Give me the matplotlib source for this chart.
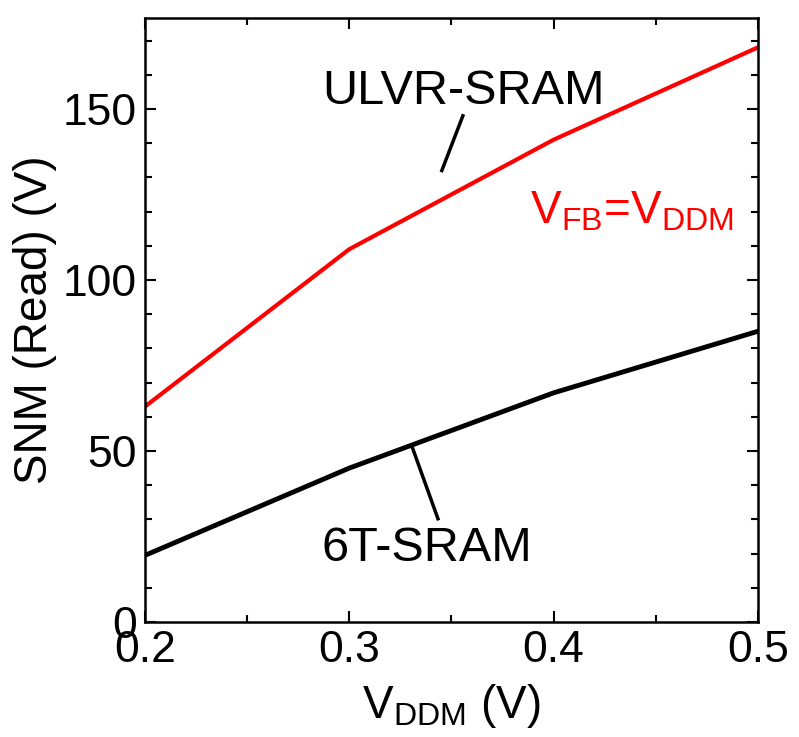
import matplotlib
matplotlib.use("Agg")
import matplotlib.pyplot as plt
from matplotlib.ticker import MultipleLocator, FuncFormatter

plt.rcParams['font.family'] = ['Liberation Sans', 'DejaVu Sans']
plt.rcParams['mathtext.default'] = 'regular'

vddm = [0.2, 0.3, 0.4, 0.5]
ulvr_snm = [63, 109, 141, 168]
sram6t_snm = [19.5, 45, 67, 85]

fig = plt.figure(figsize=(7.99, 7.37), dpi=100)
ax = fig.add_axes([0.1815, 0.156, 0.767, 0.8196])

ax.plot(vddm, ulvr_snm, color='#ff0000', lw=3.0)
ax.plot(vddm, sram6t_snm, color='black', lw=3.5)

ax.set_xlim(0.2, 0.5)
ax.set_ylim(0, 176.6)
ax.xaxis.set_major_locator(MultipleLocator(0.1))
ax.xaxis.set_minor_locator(MultipleLocator(0.05))
ax.yaxis.set_major_locator(MultipleLocator(50))
ax.yaxis.set_minor_locator(MultipleLocator(10))
ax.xaxis.set_major_formatter(FuncFormatter(lambda v, p: f"{v:.1f}"))
ax.tick_params(which='both', direction='in', top=True, right=True, width=1.5, labelsize=32, pad=6)
ax.tick_params(which='major', length=8)
ax.tick_params(which='minor', length=5)
for s in ax.spines.values():
    s.set_linewidth(1.8)

ax.set_xlabel('$V_{DDM}$ (V)', fontsize=33, labelpad=8)
ax.set_ylabel('SNM (Read) (V)', fontsize=33, labelpad=4)

ax.text(0.3561, 155.2, 'ULVR-SRAM', fontsize=35, ha='center', va='center')
ax.plot([0.3556, 0.3453], [148, 132], color='black', lw=2.5)
ax.text(0.3380, 21.4, '6T-SRAM', fontsize=35, ha='center', va='center')
ax.plot([0.3307, 0.3434], [51.3, 30.2], color='black', lw=2.5)
ax.text(0.3884, 120, '$V_{FB}$=$V_{DDM}$', fontsize=33, color='#ff0000', ha='left', va='center')

fig.savefig('out.png', dpi=100)
